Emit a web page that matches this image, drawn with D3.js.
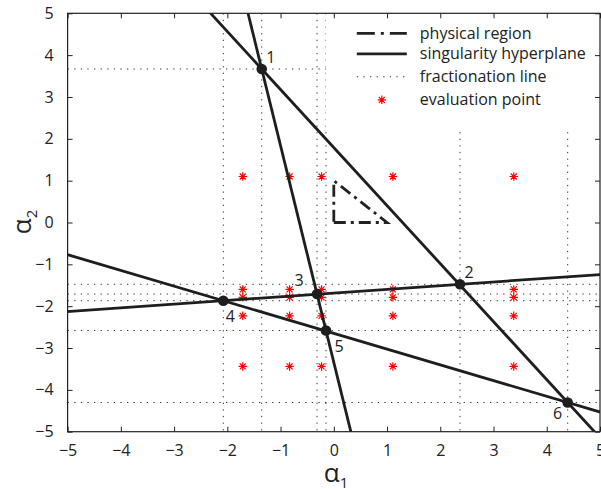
<!DOCTYPE html>
<html>
<head>
<meta charset="utf-8">
<script src="https://cdn.jsdelivr.net/npm/d3@7"></script>
<style>
  body { margin: 0; background: #fff; }
  text { font-family: "Open Sans", sans-serif; fill: #222; }
</style>
</head>
<body>
<svg id="chart" width="601" height="489"></svg>
<script>
// intersection nodes of the singularity hyperplanes
const nodeIds = ['1', '2', '3', '4', '5', '6'];
const nodeX = [-1.354, 2.370, -0.315, -2.075, -0.147, 4.393];
const nodeY = [3.669, -1.477, -1.710, -1.869, -2.581, -4.302];

// every hyperplane passes through two of the nodes (indices)
const hyperplanes = [[0, 5], [0, 4], [3, 1], [3, 5]];

// evaluation points, a grid
const evalX = [-1.71, -0.83, -0.23, 1.11, 3.38];
const evalY = [1.10, -1.60, -1.79, -2.23, -3.44];

// physical region (triangle)
const regionX = [0, 1, 0];
const regionY = [0, 0, 1];

const tickValues = [-5, -4, -3, -2, -1, 0, 1, 2, 3, 4, 5];
const legendLabels = ['physical region', 'singularity hyperplane', 'fractionation line', 'evaluation point'];

// label placement around nodes (px)
const labelOffsets = [[9, -11], [9, -12], [-18, -14], [7, 16], [13, 16], [-10, 11]];

const width = 601, height = 489;
const margin = { top: 13.3, right: 1, bottom: 57.3, left: 67.6 };
const innerWidth = width - margin.left - margin.right;
const innerHeight = height - margin.top - margin.bottom;

const svg = d3.select('#chart');

const x = d3.scaleLinear().domain([-5, 5]).range([0, innerWidth]);
const y = d3.scaleLinear().domain([-5, 5]).range([innerHeight, 0]);

const g = svg.append('g').attr('transform', `translate(${margin.left}, ${margin.top})`);

g.append('clipPath').attr('id', 'clip')
  .append('rect').attr('width', innerWidth).attr('height', innerHeight);

const plot = g.append('g').attr('clip-path', 'url(#clip)');

// fractionation lines: through every node, horizontally and vertically
plot.selectAll('.fracv').data(nodeX).enter().append('line')
  .attr('x1', d => x(d)).attr('x2', d => x(d))
  .attr('y1', 0).attr('y2', innerHeight)
  .attr('stroke', '#333').attr('stroke-width', 1)
  .attr('stroke-dasharray', '1.3 5.3');

plot.selectAll('.frach').data(nodeY).enter().append('line')
  .attr('y1', d => y(d)).attr('y2', d => y(d))
  .attr('x1', 0).attr('x2', innerWidth)
  .attr('stroke', '#333').attr('stroke-width', 1)
  .attr('stroke-dasharray', '1.3 5.3');

// physical region
const regionLine = d3.line().x(d => x(d[0])).y(d => y(d[1]));
plot.append('path')
  .attr('d', regionLine(regionX.map((d, i) => [d, regionY[i]])) + 'Z')
  .attr('fill', 'none').attr('stroke', '#222').attr('stroke-width', 2.8)
  .attr('stroke-dasharray', '12 5 3 5');

// evaluation points (MATLAB style '*')
const evalPts = [];
evalY.forEach(yy => evalX.forEach(xx => evalPts.push([xx, yy])));
const star = 'M-4.2,0H4.2M0,-4.2V4.2M-3,-3L3,3M-3,3L3,-3';
plot.selectAll('.eval').data(evalPts).enter().append('path')
  .attr('transform', d => `translate(${x(d[0])}, ${y(d[1])})`)
  .attr('d', star)
  .attr('stroke', '#f00').attr('stroke-width', 1.2).attr('fill', 'none');

// singularity hyperplanes, extended past the frame and clipped
plot.selectAll('.hyper').data(hyperplanes).enter().append('line')
  .each(function (d) {
    const [i, j] = d;
    const dx = nodeX[j] - nodeX[i], dy = nodeY[j] - nodeY[i];
    d3.select(this)
      .attr('x1', x(nodeX[i] - 30 * dx)).attr('y1', y(nodeY[i] - 30 * dy))
      .attr('x2', x(nodeX[i] + 30 * dx)).attr('y2', y(nodeY[i] + 30 * dy));
  })
  .attr('stroke', '#1e1e1e').attr('stroke-width', 2.8);

// nodes
plot.selectAll('.node').data(nodeIds).enter().append('circle')
  .attr('cx', (d, i) => x(nodeX[i])).attr('cy', (d, i) => y(nodeY[i]))
  .attr('r', 5.3).attr('fill', '#1e1e1e');

g.selectAll('.nlabel').data(nodeIds).enter().append('text')
  .attr('x', (d, i) => x(nodeX[i]) + labelOffsets[i][0])
  .attr('y', (d, i) => y(nodeY[i]) + labelOffsets[i][1] + 5.5)
  .attr('text-anchor', 'middle')
  .attr('font-size', 16)
  .text(d => d);

// legend (opaque, no box)
const lg = g.append('g').attr('transform', `translate(${x(-0.15)}, 0)`);
lg.append('rect').attr('x', 0).attr('y', 0.5)
  .attr('width', innerWidth - x(-0.15) - 0.5).attr('height', 115).attr('fill', '#fff');
const rowY = [20, 40.5, 63.5, 86.5];
const sx0 = 31, sx1 = 81;
lg.append('line').attr('x1', sx0).attr('x2', sx1).attr('y1', rowY[0]).attr('y2', rowY[0])
  .attr('stroke', '#222').attr('stroke-width', 2.8).attr('stroke-dasharray', '18 6 3 6 18');
lg.append('line').attr('x1', sx0).attr('x2', sx1).attr('y1', rowY[1]).attr('y2', rowY[1])
  .attr('stroke', '#222').attr('stroke-width', 2.8);
lg.append('line').attr('x1', sx0).attr('x2', sx1).attr('y1', rowY[2]).attr('y2', rowY[2])
  .attr('stroke', '#333').attr('stroke-width', 1).attr('stroke-dasharray', '1.3 5.3');
lg.append('path').attr('transform', `translate(${(sx0 + sx1) / 2}, ${rowY[3]})`)
  .attr('d', star).attr('stroke', '#f00').attr('stroke-width', 1.2).attr('fill', 'none');
lg.selectAll('.ltext').data(legendLabels).enter().append('text')
  .attr('x', 94).attr('y', (d, i) => rowY[i] + 5.5)
  .attr('font-size', 16)
  .text(d => d);

// axes with inward ticks on all four sides
const fmt = d => d < 0 ? '\u2212' + Math.abs(d) : String(d);
const styleAxis = sel => {
  sel.select('.domain').remove();
  sel.selectAll('line').attr('stroke', '#222');
  sel.selectAll('text').attr('font-size', 16).attr('fill', '#222').style('font-family', '"Open Sans", sans-serif');
};
const noLabels = sel => { sel.select('.domain').remove(); sel.selectAll('text').remove(); sel.selectAll('line').attr('stroke', '#222'); };

g.append('g').attr('transform', `translate(0, ${innerHeight})`)
  .call(d3.axisBottom(x).tickValues(tickValues).tickFormat(fmt).tickSize(-5).tickPadding(13))
  .call(styleAxis);
g.append('g')
  .call(d3.axisTop(x).tickValues(tickValues).tickSize(-5))
  .call(noLabels);
g.append('g')
  .call(d3.axisLeft(y).tickValues(tickValues).tickFormat(fmt).tickSize(-5).tickPadding(14))
  .call(styleAxis);
g.append('g').attr('transform', `translate(${innerWidth}, 0)`)
  .call(d3.axisRight(y).tickValues(tickValues).tickSize(-5))
  .call(noLabels);

g.append('rect').attr('width', innerWidth).attr('height', innerHeight)
  .attr('fill', 'none').attr('stroke', '#222').attr('stroke-width', 1.2);

// axis titles
const xt = svg.append('text').attr('x', 336).attr('y', 482).attr('text-anchor', 'middle');
xt.append('tspan').attr('font-size', 26).text('\u03b1');
xt.append('tspan').attr('font-size', 15).attr('dy', 6).text('1');

const yt = svg.append('text').attr('transform', 'translate(31, 222) rotate(-90)').attr('text-anchor', 'middle');
yt.append('tspan').attr('font-size', 26).text('\u03b1');
yt.append('tspan').attr('font-size', 15).attr('dy', 6).text('2');
</script>
</body>
</html>
